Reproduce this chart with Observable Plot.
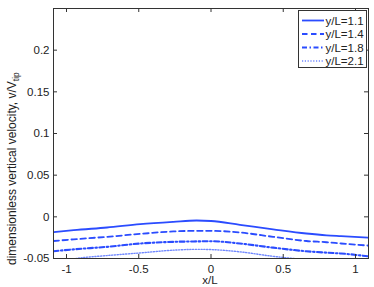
<!DOCTYPE html>
<html>
<head>
<meta charset="utf-8">
<script src="https://cdn.jsdelivr.net/npm/d3@7"></script>
<script src="https://cdn.jsdelivr.net/npm/@observablehq/plot@0.6"></script>
<style>
  html, body { margin: 0; padding: 0; background: #fff; }
  #chart svg { display: block; }
</style>
</head>
<body>
<div id="chart"></div>
<script>
// ---- data ----
const xs = [-1.09, -0.95, -0.72, -0.49, -0.26, -0.1, 0, 0.2, 0.43, 0.66, 0.8, 0.9, 1.09];
const v11 = [-0.0185, -0.016, -0.0128, -0.0088, -0.006, -0.0044, -0.005, -0.0096, -0.015, -0.020, -0.0222, -0.0232, -0.025];
const v14 = [-0.029, -0.027, -0.024, -0.0205, -0.0175, -0.0168, -0.0168, -0.0188, -0.024, -0.029, -0.0305, -0.032, -0.0345];
const v18 = [-0.0413, -0.039, -0.036, -0.032, -0.030, -0.0295, -0.0293, -0.032, -0.037, -0.0413, -0.043, -0.044, -0.0474];
const v21 = [-0.056, -0.0505, -0.0465, -0.0433, -0.040, -0.039, -0.0393, -0.042, -0.0474, -0.0515, -0.054, -0.056, -0.058];
const seriesNames = ["y/L=1.1", "y/L=1.4", "y/L=1.8", "y/L=2.1"];
const seriesValues = [v11, v14, v18, v21];
const xTicks = [-1, -0.5, 0, 0.5, 1];
const yTicks = [-0.05, 0, 0.05, 0.1, 0.15, 0.2];
const xDomain = [-1.09, 1.09];
const yDomain = [-0.05, 0.25];

// ---- styles ----
const blue = "#2b4cff";
const styles = [
  {stroke: blue, width: 1.8, dash: null},
  {stroke: blue, width: 1.8, dash: "5.5,3.5"},
  {stroke: blue, width: 2.1, dash: "5,2.5,1.5,2.5"},
  {stroke: "#7088ff", width: 1.4, dash: "1.2,1.6"}
];

const rows = [];
seriesNames.forEach((name, s) => xs.forEach((x, i) => rows.push({series: name, x, v: seriesValues[s][i]})));

const font = "'Liberation Sans', Arial, Helvetica, sans-serif";
const fs = 11.5;
const fmt = d => String(d);
const axisColor = "#333";

const lineMarks = seriesNames.map((name, s) =>
  Plot.line(rows.filter(r => r.series === name), {
    x: "x", y: "v", stroke: styles[s].stroke, strokeWidth: styles[s].width,
    strokeDasharray: styles[s].dash, clip: true, curve: "monotone-x"
  })
);

const chart = Plot.plot({
  width: 374,
  height: 287,
  marginLeft: 53,
  marginRight: 6,
  marginTop: 8,
  marginBottom: 29,
  style: {fontFamily: font, fontSize: fs + "px", color: "#222", background: "#fff"},
  x: {domain: xDomain},
  y: {domain: yDomain},
  marks: [
    ...lineMarks,
    Plot.frame({stroke: axisColor, strokeWidth: 1}),
    // inward ticks on all four sides
    Plot.ruleX(xTicks, {x: d => d, y1: yDomain[0], y2: yDomain[0], insetTop: -4, stroke: axisColor}),
    Plot.ruleX(xTicks, {x: d => d, y1: yDomain[1], y2: yDomain[1], insetBottom: -4, stroke: axisColor}),
    Plot.ruleY(yTicks, {y: d => d, x1: xDomain[0], x2: xDomain[0], insetRight: -4, stroke: axisColor}),
    Plot.ruleY(yTicks, {y: d => d, x1: xDomain[1], x2: xDomain[1], insetLeft: -4, stroke: axisColor}),
    Plot.axisX(xTicks, {tickSize: 0, tickPadding: 6, tickFormat: fmt, label: null, fill: "#222"}),
    Plot.axisY(yTicks, {tickSize: 0, tickPadding: 4, tickFormat: fmt, label: null, fill: "#222"})
  ]
});

document.getElementById("chart").appendChild(chart);

const svg = d3.select(chart);

// x axis label
svg.append("text")
  .attr("x", 210).attr("y", 284)
  .attr("text-anchor", "middle")
  .attr("font-family", font).attr("font-size", fs).attr("fill", "#222")
  .text("x/L");

// y axis label with subscript
const yl = svg.append("text")
  .attr("transform", "translate(16,265) rotate(-90)")
  .attr("text-anchor", "start")
  .attr("font-family", font).attr("font-size", 12).attr("fill", "#222");
yl.append("tspan").text("dimensionless vertical velocity, v/V");
yl.append("tspan").attr("font-size", 8.5).attr("dy", 3).text("tip");

// legend
const lg = svg.append("g").attr("font-family", font).attr("font-size", fs).attr("text-anchor", "start");
lg.append("rect").attr("x", 298.5).attr("y", 10.5).attr("width", 68).attr("height", 57)
  .attr("fill", "#fff").attr("stroke", axisColor);
const rowY = [20.5, 34, 47.5, 61];
seriesNames.forEach((name, s) => {
  lg.append("line").attr("x1", 302).attr("x2", 324).attr("y1", rowY[s]).attr("y2", rowY[s])
    .attr("stroke", styles[s].stroke).attr("stroke-width", styles[s].width)
    .attr("stroke-dasharray", styles[s].dash);
  lg.append("text").attr("x", 325.5).attr("y", rowY[s] + 4).attr("text-anchor", "start")
    .attr("fill", "#222").text(name);
});
</script>
</body>
</html>
